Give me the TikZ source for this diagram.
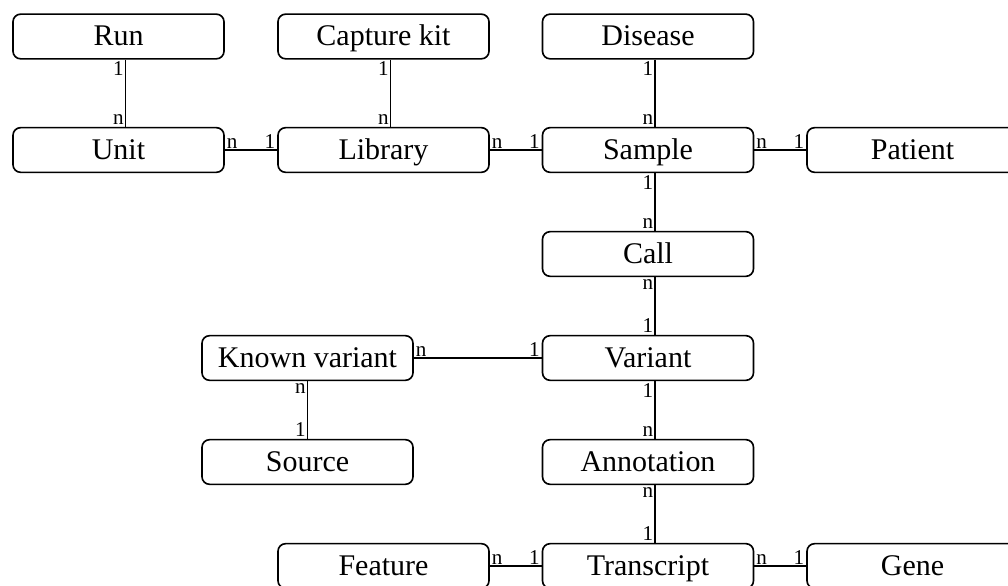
\documentclass[tikz,border=0pt]{standalone}
\usepackage{fontspec}
\setmainfont{Liberation Serif}
\usepackage{tikz}
\usetikzlibrary{positioning}
\tikzset{
  ent/.style={draw=black,fill=white,rounded corners=6.5pt,line width=1.4pt,minimum width=6.33cm,minimum height=1.34cm,inner sep=0pt,
    text height=0.62cm,text depth=0.07cm,font=\fontsize{25.6}{28}\selectfont},
  rel/.style={line width=1.3pt,color=black},
  card/.style={font=\fontsize{18}{19}\selectfont,inner sep=1pt},
}
\begin{document}
\begin{tikzpicture}[x=1cm,y=1cm]
  \clip (0,0) rectangle (30.24,17.58);
  % top rows
  \node[ent] (run) at (3.555,16.485) {Run};
  \node[ent] (kit) at (11.505,16.485) {Capture kit};
  \node[ent] (dis) at (19.44,16.485) {Disease};
  \node[ent] (unit) at (3.555,13.08) {Unit};
  \node[ent] (lib) at (11.505,13.08) {Library};
  \node[ent] (smp) at (19.44,13.08) {Sample};
  \node[ent] (pat) at (27.375,13.08) {Patient};
  % variant column
  \node[ent] (call) at (19.44,9.96) {Call};
  \node[ent] (var) at (19.44,6.84) {Variant};
  \node[ent] (kvar) at (9.225,6.84) {Known variant};
  \node[ent] (src) at (9.225,3.72) {Source};
  \node[ent] (ann) at (19.44,3.72) {Annotation};
  \node[ent] (feat) at (11.505,0.6) {Feature};
  \node[ent] (trx) at (19.44,0.6) {Transcript};
  \node[ent] (gene) at (27.375,0.6) {Gene};
  % vertical links
  \draw[rel] ([xshift=0.21cm]run.south) -- node[card,pos=0,anchor=north east]{1} node[card,pos=1,anchor=south east]{n} ([xshift=0.21cm]unit.north);
  \draw[rel] ([xshift=0.21cm]kit.south) -- node[card,pos=0,anchor=north east]{1} node[card,pos=1,anchor=south east]{n} ([xshift=0.21cm]lib.north);
  \draw[rel] ([xshift=0.21cm]dis.south) -- node[card,pos=0,anchor=north east]{1} node[card,pos=1,anchor=south east]{n} ([xshift=0.21cm]smp.north);
  \draw[rel] ([xshift=0.21cm]smp.south) -- node[card,pos=0,anchor=north east]{1} node[card,pos=1,anchor=south east]{n} ([xshift=0.21cm]call.north);
  \draw[rel] ([xshift=0.21cm]call.south) -- node[card,pos=0,anchor=north east]{n} node[card,pos=1,anchor=south east]{1} ([xshift=0.21cm]var.north);
  \draw[rel] ([xshift=0.21cm]var.south) -- node[card,pos=0,anchor=north east]{1} node[card,pos=1,anchor=south east]{n} ([xshift=0.21cm]ann.north);
  \draw[rel] ([xshift=0.21cm]ann.south) -- node[card,pos=0,anchor=north east]{n} node[card,pos=1,anchor=south east]{1} ([xshift=0.21cm]trx.north);
  \draw[rel] (kvar.south) -- node[card,pos=0,anchor=north east]{n} node[card,pos=1,anchor=south east]{1} (src.north);
  % horizontal links
  \draw[rel] (unit.east) -- node[card,pos=0,anchor=south west]{n} node[card,pos=1,anchor=south east]{1} (lib.west);
  \draw[rel] (lib.east) -- node[card,pos=0,anchor=south west]{n} node[card,pos=1,anchor=south east]{1} (smp.west);
  \draw[rel] (smp.east) -- node[card,pos=0,anchor=south west]{n} node[card,pos=1,anchor=south east]{1} (pat.west);
  \draw[rel] (kvar.east) -- node[card,pos=0,anchor=south west]{n} node[card,pos=1,anchor=south east]{1} (var.west);
  \draw[rel] (feat.east) -- node[card,pos=0,anchor=south west]{n} node[card,pos=1,anchor=south east]{1} (trx.west);
  \draw[rel] (trx.east) -- node[card,pos=0,anchor=south west]{n} node[card,pos=1,anchor=south east]{1} (gene.west);
\end{tikzpicture}
\end{document}
